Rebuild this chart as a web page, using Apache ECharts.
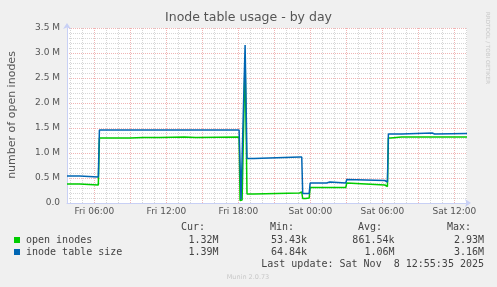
<!DOCTYPE html>
<html><head><meta charset="utf-8">
<script src="https://cdn.jsdelivr.net/npm/echarts@6/dist/echarts.min.js"></script>
<style>html,body{margin:0;padding:0;background:#F0F0F0}#c{width:497px;height:287px}</style>
</head><body><div id="c"></div>
<script>
// hours since Fri 00:00
const times = [3.72,4.75,4.83,6.33,6.42,8.97,9.05,10.05,10.13,10.3,11.45,11.53,13.5,13.58,14.45,14.53,18.06,18.14,18.22,18.31,18.56,18.72,19.3,19.39,23.1,23.18,23.28,23.36,23.6,23.68,23.9,23.98,25.35,25.42,25.5,25.62,25.7,26.95,27.03,27.12,30.2,30.28,30.42,30.5,30.67,30.75,31.6,31.67,34.15,34.22,34.35,34.42,37.05];
// millions
const openInodes = [0.38,0.38,0.36,0.36,1.30,1.30,1.31,1.31,1.32,1.31,1.31,1.32,1.32,1.31,1.31,1.32,1.32,0.05,0.06,0.06,2.93,0.18,0.18,0.20,0.20,0.22,0.22,0.09,0.09,0.10,0.10,0.31,0.31,0.31,0.31,0.31,0.31,0.31,0.40,0.36,0.36,0.33,0.33,1.30,1.30,1.32,1.32,1.32,1.32,1.32,1.32,1.32,1.32];
const inodeTableSize = [0.54,0.54,0.52,0.52,1.46,1.46,1.46,1.46,1.46,1.46,1.46,1.46,1.46,1.46,1.46,1.46,1.46,1.46,0.07,0.07,3.16,0.89,0.89,0.92,0.92,0.92,0.92,0.19,0.19,0.19,0.19,0.40,0.40,0.42,0.40,0.42,0.40,0.40,0.47,0.45,0.45,0.42,0.42,1.38,1.38,1.38,1.38,1.40,1.40,1.38,1.38,1.40,1.39];
const xLabelValues = [6,12,18,24,30,36];
const xLabels = ['Fri 06:00','Fri 12:00','Fri 18:00','Sat 00:00','Sat 06:00','Sat 12:00'];
const xHourTicks = [4,5,6,7,8,9,10,11,12,13,14,15,16,17,18,19,20,21,22,23,24,25,26,27,28,29,30,31,32,33,34,35,36,37];
const seriesNames = ['open inodes','inode table size'];
const statHeaders = ['Cur:','Min:','Avg:','Max:'];
const openStats = ['1.32M','53.43k','861.54k','2.93M'];
const tableStats = ['1.39M','64.84k','1.06M','3.16M'];
const lastUpdate = 'Last update: Sat Nov  8 12:55:35 2025';

const GREEN = '#00CC00', BLUE = '#0066B3';
const toPairs = arr => times.map((t, i) => [t, arr[i] * 1e6]);

const chart = echarts.init(document.getElementById('c'), null, {renderer: 'canvas'});
const mono = '"DejaVu Sans Mono", monospace';
const sans = '"DejaVu Sans", sans-serif';
const txt = (text, x, y, align, opts) => Object.assign({
  type: 'text', x: x, y: y, silent: true,
  style: Object.assign({text: text, align: align, verticalAlign: 'middle', fontFamily: mono, fontSize: 10, fill: '#444'}, (opts && opts.style) || {})
}, (opts && opts.el) || {});

const graphics = [];
const headerRight = [205, 294, 382, 471];
const valueRight = [218.5, 307, 394.5, 484];
statHeaders.forEach((h, i) => graphics.push(txt(h, headerRight[i], 227, 'right')));
graphics.push({type: 'rect', shape: {x: 14, y: 237, width: 6, height: 6}, style: {fill: GREEN}});
graphics.push({type: 'rect', shape: {x: 14, y: 249, width: 6, height: 6}, style: {fill: BLUE}});
graphics.push(txt(seriesNames[0], 26, 240, 'left'));
graphics.push(txt(seriesNames[1], 26, 252, 'left'));
openStats.forEach((s, i) => graphics.push(txt(s, valueRight[i], 240, 'right')));
tableStats.forEach((s, i) => graphics.push(txt(s, valueRight[i], 252, 'right')));
graphics.push(txt(lastUpdate, 484, 264, 'right'));
graphics.push(txt('Munin 2.0.73', 248, 277, 'center', {style: {fontFamily: sans, fontSize: 6.5, fill: '#c8c8c8'}}));
graphics.push(txt('RRDTOOL / TOBI OETIKER', 487.5, 48, 'center', {style: {fontFamily: sans, fontSize: 5.6, fill: '#c8c8c8'}, el: {rotation: -Math.PI / 2}}));
graphics.push(txt('number of open inodes', 12, 115, 'center', {style: {fontFamily: sans, fontSize: 11, fill: '#555'}, el: {rotation: Math.PI / 2}}));

chart.setOption({
  animation: false,
  backgroundColor: '#F0F0F0',
  title: {
    text: 'Inode table usage - by day', left: 'center', top: 11, padding: 0,
    textStyle: {fontFamily: sans, fontSize: 12.5, fontWeight: 'normal', color: '#555'}
  },
  grid: {left: 67, top: 28, width: 400, height: 175, show: true, backgroundColor: '#FFFFFF', borderWidth: 0},
  xAxis: {
    type: 'value', min: 3.72, max: 37.05,
    axisLine: {show: true, lineStyle: {color: '#C8D0F5', width: 1}, symbol: ['none', 'arrow'], symbolSize: [6, 6], symbolOffset: [0, 4]},
    axisTick: {show: false, customValues: xHourTicks},
    axisLabel: {customValues: xLabelValues, margin: 4, color: '#555', fontFamily: sans, fontSize: 9,
      formatter: v => xLabels[xLabelValues.indexOf(Math.round(v))] || ''},
    splitLine: {show: true, lineStyle: {color: ['#D6D6D6', '#D6D6D6', '#F0B4B4'], type: [1, 1], width: 1}}
  },
  yAxis: {
    type: 'value', min: 0, max: 3.5e6, interval: 5e5,
    axisLine: {show: true, lineStyle: {color: '#C8D0F5', width: 1}, symbol: ['none', 'arrow'], symbolSize: [6, 6], symbolOffset: [0, 5]},
    axisTick: {show: false},
    axisLabel: {margin: 7, color: '#555', fontFamily: sans, fontSize: 9,
      formatter: v => v === 0 ? '0.0' : (v / 1e6).toFixed(1) + ' M'},
    splitLine: {show: true, lineStyle: {color: '#F0B4B4', type: [1, 1], width: 1}},
    minorTick: {show: false, splitNumber: 5},
    minorSplitLine: {show: true, lineStyle: {color: '#D6D6D6', type: [1, 1], width: 1}}
  },
  series: [
    {name: seriesNames[0], type: 'line', data: toPairs(openInodes), showSymbol: false, symbol: 'none',
      lineStyle: {color: GREEN, width: 1.5}, itemStyle: {color: GREEN}, z: 2},
    {name: seriesNames[1], type: 'line', data: toPairs(inodeTableSize), showSymbol: false, symbol: 'none',
      lineStyle: {color: BLUE, width: 1.5}, itemStyle: {color: BLUE}, z: 3}
  ],
  graphic: graphics
});
</script>
</body></html>
